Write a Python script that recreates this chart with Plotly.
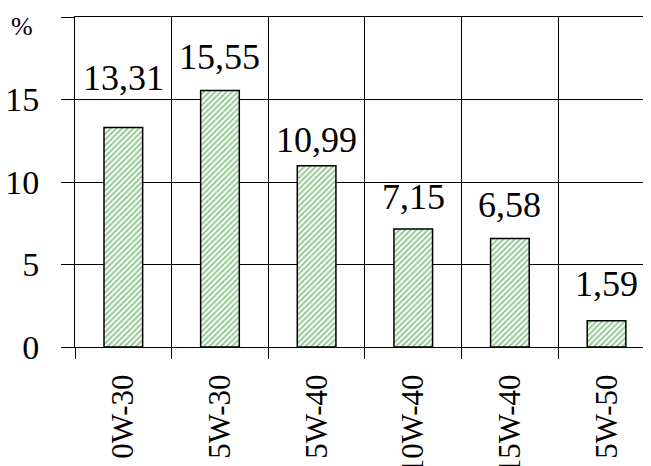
import plotly.graph_objects as go

categories = ["0W-30", "5W-30", "5W-40", "10W-40", "15W-40", "5W-50"]
values = [13.31, 15.55, 10.99, 7.15, 6.58, 1.59]
y_ticks = [0, 5, 10, 15, 20]
y_ticktext = ["0", "5", "10", "15", ""]

# per-label pixel nudges (layout style, as in the source chart)
label_nudge = [27, 11, 4, 10, 11, 15]

FONT = "Liberation Serif, Times New Roman, serif"

fig = go.Figure()
fig.add_trace(go.Bar(
    x=categories, y=values,
    marker=dict(
        color="white",
        line=dict(color="black", width=1.5),
        pattern=dict(shape="/", fgcolor="#289428", bgcolor="white", size=4, solidity=0.5),
    ),
    hoverinfo="skip",
))

for c, v, s in zip(categories, values, label_nudge):
    fig.add_annotation(
        x=c, y=v, text=f"{v:.2f}".replace(".", ","),
        showarrow=False, yanchor="bottom", yshift=s,
        font=dict(family=FONT, size=36, color="black"),
    )

fig.add_annotation(
    xref="paper", yref="paper", x=-0.092, y=0.97, text="%",
    showarrow=False, xanchor="center", yanchor="middle",
    font=dict(family=FONT, size=26, color="black"),
)

fig.update_layout(
    width=643, height=458,
    margin=dict(l=67, r=0, t=9, b=119),
    paper_bgcolor="white", plot_bgcolor="white",
    showlegend=False, bargap=0.6,
    font=dict(family=FONT, color="black"),
)
fig.update_xaxes(
    type="category", range=[-0.5, 5.46], automargin=False,
    tickson="boundaries", ticks="outside", ticklen=11, tickcolor="black", tickwidth=1,
    showgrid=True, gridcolor="black", gridwidth=1,
    showline=True, linecolor="black", linewidth=1, mirror=True,
    tickangle=-90, tickfont=dict(family=FONT, size=31, color="black"),
    ticklabelstandoff=14,
)
fig.update_yaxes(
    range=[0, 20], tickvals=y_ticks, ticktext=y_ticktext, automargin=False,
    ticks="outside", ticklen=13, tickcolor="black", tickwidth=1,
    showgrid=True, gridcolor="black", gridwidth=1, zeroline=False,
    showline=True, linecolor="black", linewidth=1,
    tickfont=dict(family=FONT, size=34, color="black"),
    ticklabelstandoff=15,
)

fig.write_html("out.html")
